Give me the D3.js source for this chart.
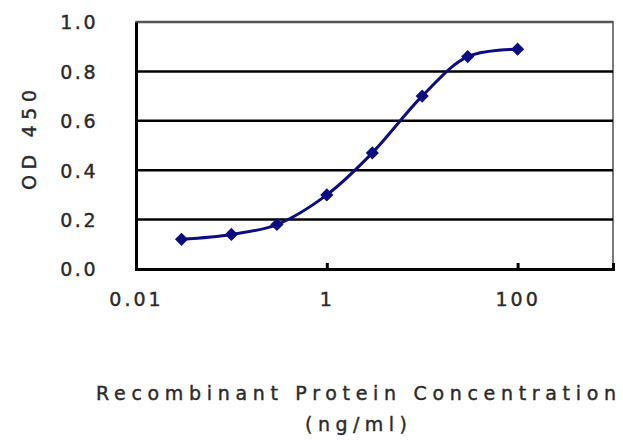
<!DOCTYPE html>
<html>
<head>
<meta charset="utf-8">
<script src="https://cdn.jsdelivr.net/npm/d3@7"></script>
<style>
  body { margin: 0; background: #fff; }
  svg text { font-family: "DejaVu Sans", Verdana, sans-serif; fill: #2a2a2a; stroke: #2a2a2a; stroke-width: 0.4px; }
</style>
</head>
<body>
<div id="chart"></div>
<script>
// ELISA standard curve values
const concentrations = [0.03, 0.1, 0.3, 1, 3, 10, 30, 100];
const odValues = [0.12, 0.14, 0.18, 0.30, 0.47, 0.70, 0.86, 0.89];
const xTicks = [0.01, 1, 100];
const yTicks = [0, 0.2, 0.4, 0.6, 0.8, 1.0];

const width = 623, height = 444;
const margin = { top: 22, right: 10, bottom: 175, left: 136 };

const svg = d3.select("#chart").append("svg")
  .attr("width", width)
  .attr("height", height);

const x = d3.scaleLog()
  .domain([0.01, 1000])
  .range([margin.left, width - margin.right]);

const y = d3.scaleLinear()
  .domain([0, 1])
  .range([height - margin.bottom, margin.top]);

// plot border (grey on top and right)
svg.append("rect")
  .attr("x", x.range()[0])
  .attr("y", y.range()[1])
  .attr("width", x.range()[1] - x.range()[0])
  .attr("height", y.range()[0] - y.range()[1])
  .attr("fill", "none")
  .attr("stroke", "#7a7a7a")
  .attr("stroke-width", 2);

// gridlines
svg.append("g")
  .selectAll("line")
  .data(yTicks.filter(d => d > 0))
  .join("line")
  .attr("x1", x.range()[0])
  .attr("x2", x.range()[1])
  .attr("y1", d => y(d))
  .attr("y2", d => y(d))
  .attr("stroke", d => d === 1 ? "#555" : "#000")
  .attr("stroke-width", 2.5);

// y axis
const yAxis = svg.append("g")
  .attr("transform", `translate(${x.range()[0]},0)`)
  .call(d3.axisLeft(y).tickValues(yTicks).tickFormat(d3.format(".1f")).tickSize(0).tickPadding(38));
yAxis.select(".domain").attr("stroke", "#000").attr("stroke-width", 3);
yAxis.selectAll("text")
  .style("font-size", "19px")
  .style("letter-spacing", "2.5px")
  .attr("dy", "0.36em");

// x axis
const xAxis = svg.append("g")
  .attr("transform", `translate(0,${y.range()[0]})`)
  .call(d3.axisBottom(x).tickValues(xTicks).tickFormat(d => String(d)).tickSize(-6).tickPadding(24));
xAxis.select(".domain").attr("stroke", "#000").attr("stroke-width", 3);
xAxis.selectAll(".tick line").attr("stroke", "#000").attr("stroke-width", 3);
xAxis.selectAll("text")
  .style("font-size", "19px")
  .style("letter-spacing", "3px");

// axis titles
svg.append("text")
  .attr("transform", "translate(36,140) rotate(-90)")
  .attr("text-anchor", "middle")
  .attr("textLength", 100)
  .attr("lengthAdjust", "spacing")
  .style("font-size", "19px")
  .text("OD 450");

svg.append("text")
  .attr("x", 356)
  .attr("y", 400)
  .attr("text-anchor", "middle")
  .attr("textLength", 520)
  .attr("lengthAdjust", "spacing")
  .style("font-size", "19px")
  .text("Recombinant  Protein  Concentration");

svg.append("text")
  .attr("x", 356)
  .attr("y", 431)
  .attr("text-anchor", "middle")
  .attr("textLength", 102)
  .attr("lengthAdjust", "spacing")
  .style("font-size", "19px")
  .text("(ng/ml)");

// series
const points = concentrations.map((c, i) => [x(c), y(odValues[i])]);

svg.append("path")
  .datum(points)
  .attr("fill", "none")
  .attr("stroke", "#0d0d80")
  .attr("stroke-width", 3)
  .attr("d", d3.line().curve(d3.curveCatmullRom.alpha(0.5)));

svg.append("g")
  .selectAll("path")
  .data(points)
  .join("path")
  .attr("transform", d => `translate(${d[0]},${d[1]})`)
  .attr("d", d3.symbol(d3.symbolDiamond2, 110))
  .attr("fill", "#0d0d80");
</script>
</body>
</html>
